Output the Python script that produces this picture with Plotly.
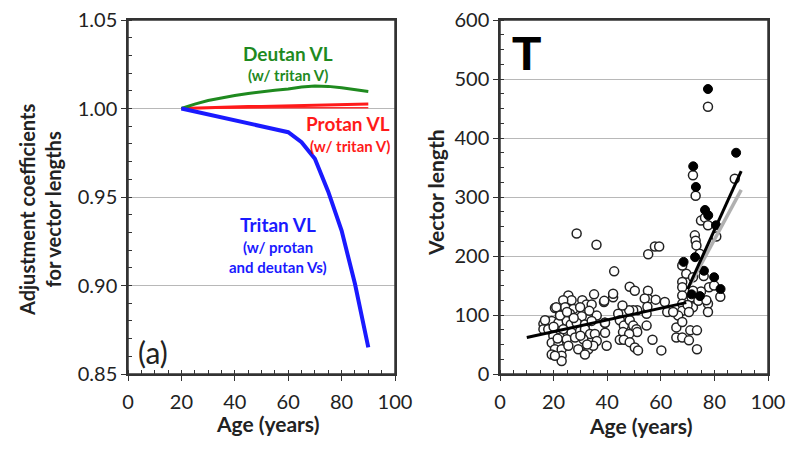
import plotly.graph_objects as go

# left panel: adjustment coefficients by age
curve_age = [20, 25, 30, 35, 40, 45, 50, 55, 60, 65, 70, 75, 80, 85, 90]
deutan_coef = [1.000, 1.0025, 1.0045, 1.006, 1.0073, 1.0085, 1.0095, 1.0103, 1.011,
               1.0122, 1.0127, 1.0125, 1.0117, 1.0107, 1.0096]
protan_coef = [1.000, 1.0003, 1.0005, 1.0007, 1.0009, 1.0011, 1.0012, 1.0014, 1.0015,
               1.0017, 1.0019, 1.002, 1.0022, 1.0024, 1.0025]
protan_alt_coef = [1.000, 1.0001, 1.0001, 1.0002, 1.0002, 1.0003, 1.0003, 1.0003, 1.0004,
                   1.0004, 1.0004, 1.0004, 1.0004, 1.0004, 1.0004]
tritan_coef = [1.000, 0.9984, 0.9967, 0.995, 0.9934, 0.9917, 0.99, 0.9883, 0.9866,
               0.981, 0.9716, 0.953, 0.931, 0.901, 0.865]

# right panel: tritan vector length by age
open_age = [
    28.6, 36.0, 42.6, 55.3, 57.8, 59.4, 77.6, 87.6, 72.0, 73.0, 75.0, 76.5, 77.6, 80.7,
    72.7, 73.0, 73.3, 74.5, 69.5, 68.0, 68.0, 68.0, 72.0, 78.0, 75.0, 72.0, 71.5, 72.0,
    68.0, 68.0, 68.0, 77.6, 77.6, 79.9, 82.2, 76.0, 66.5, 65.8, 65.8, 68.0, 70.5, 71.0,
    73.5, 73.5, 68.0, 70.0, 70.5, 74.0, 77.0,
    48.4, 50.3, 55.2, 55.3, 54.0, 58.1, 61.5, 62.4, 64.6, 54.7, 55.0, 51.2, 49.7, 48.2,
    45.7, 44.1, 44.7, 46.2, 48.4, 49.7, 50.9, 51.2, 45.9, 48.2, 44.7, 46.2, 48.4, 50.3,
    51.5, 54.7, 56.9, 60.2, 39.8, 42.2, 42.2, 38.8, 39.1,
    25.5, 26.7, 23.6, 30.7, 35.1, 38.9, 32.3, 34.2, 24.3, 27.4, 20.5, 29.9, 33.3, 36.1,
    22.4, 26.1, 30.5, 17.4, 16.2, 19.3, 21.8, 24.9, 26.4, 28.6, 31.7, 34.2, 39.2, 16.2,
    18.7, 21.1, 23.6, 26.7, 29.9, 31.7, 33.6, 19.9, 22.4, 24.9, 28.0, 31.1, 35.4, 36.1,
    19.3, 21.8, 20.5, 23.0, 25.5, 29.2, 33.0, 34.8, 19.3, 23.0, 31.7, 23.0, 20.5, 21.0,
    22.4, 16.8, 18.0, 39.2, 27.5, 30.0, 21.5, 20.0, 25.0, 32.5,
]
open_vl = [
    238, 219, 174, 203, 216, 216, 453, 331, 337, 302, 260, 265, 252, 233,
    235, 226, 218, 204, 170, 184, 156, 147, 164, 147, 140, 141, 130, 113,
    133, 119, 107, 119, 105, 150, 131, 166, 99, 79, 62, 62, 57, 74,
    74, 42, 88, 117, 105, 124, 125,
    148, 141, 141, 127, 128, 126, 122, 105, 105, 102, 114, 108, 108, 108,
    116, 102, 91, 82, 91, 82, 76, 71, 71, 68, 58, 58, 54, 45,
    40, 82, 58, 40, 48, 130, 136, 122, 87,
    133, 125, 125, 125, 135, 124, 118, 118, 113, 110, 112, 113, 107, 99,
    100, 102, 98, 90, 85, 90, 87, 90, 84, 87, 84, 90, 87, 76,
    76, 73, 76, 70, 73, 76, 68, 65, 62, 59, 62, 59, 68, 56,
    53, 51, 42, 42, 48, 42, 42, 48, 33, 31, 33, 22, 31, 113,
    99, 91, 76, 70, 95, 65, 60, 80, 105, 50,
]
filled_age = [88.1, 72.1, 73.1, 76.5, 77.7, 80.6, 72.8, 76.1, 79.9, 82.3, 74.6, 71.5, 68.5, 77.6]
filled_vl = [375, 352, 317, 278, 269, 252, 198, 175, 164, 144, 132, 135, 190, 483]

fit_young_age = [10, 69.5]
fit_young_vl = [62, 121]
fit_old_age = [70, 90]
fit_old_vl = [144, 344]
fit_gray_age = [71, 90]
fit_gray_vl = [152, 312]

FONT = "Lato, 'Open Sans', sans-serif"
W, H = 792, 445  # page body keeps an 8px margin
OFF = 8


def px_x(p):
    return (p - OFF) / W


def px_y(p):
    return 1 - (p - OFF) / H


fig = go.Figure()

fig.add_trace(go.Scatter(x=curve_age, y=protan_alt_coef, mode="lines",
                         line=dict(color="#ff3030", width=1.5), xaxis="x", yaxis="y"))
fig.add_trace(go.Scatter(x=curve_age, y=protan_coef, mode="lines",
                         line=dict(color="#ff1a1a", width=3), xaxis="x", yaxis="y"))
fig.add_trace(go.Scatter(x=curve_age, y=deutan_coef, mode="lines",
                         line=dict(color="#1f8a1f", width=3), xaxis="x", yaxis="y"))
fig.add_trace(go.Scatter(x=curve_age, y=tritan_coef, mode="lines",
                         line=dict(color="#1a1aff", width=4), xaxis="x", yaxis="y"))

fig.add_trace(go.Scatter(x=open_age, y=open_vl, mode="markers",
                         marker=dict(size=9, color="white", line=dict(color="#222", width=1.5)),
                         xaxis="x2", yaxis="y2"))
fig.add_trace(go.Scatter(x=filled_age, y=filled_vl, mode="markers",
                         marker=dict(size=9, color="black", line=dict(color="black", width=1)),
                         xaxis="x2", yaxis="y2"))
fig.add_trace(go.Scatter(x=fit_gray_age, y=fit_gray_vl, mode="lines",
                         line=dict(color="#b0b0b0", width=3.5), xaxis="x2", yaxis="y2"))
fig.add_trace(go.Scatter(x=fit_young_age, y=fit_young_vl, mode="lines",
                         line=dict(color="black", width=3), xaxis="x2", yaxis="y2"))
fig.add_trace(go.Scatter(x=fit_old_age, y=fit_old_vl, mode="lines",
                         line=dict(color="black", width=3), xaxis="x2", yaxis="y2"))

axis_common = dict(showline=True, mirror=True, linecolor="#333", linewidth=1.5,
                   ticks="outside", ticklen=5, tickcolor="#333", zeroline=False,
                   automargin=False, ticklabeloverflow="allow",
                   tickfont=dict(family=FONT, size=20, color="#222"))

y_dom = [px_y(374), px_y(20)]

fig.update_layout(
    width=W, height=H, showlegend=False,
    margin=dict(l=0, r=0, t=0, b=0),
    paper_bgcolor="white", plot_bgcolor="white",
    xaxis=dict(domain=[px_x(128), px_x(395)], range=[0, 100], dtick=20, showgrid=False,
               minor=dict(dtick=5, ticks="inside", ticklen=4, tickcolor="#333"),
               anchor="y", ticklabelstandoff=4, **axis_common),
    yaxis=dict(domain=y_dom, range=[0.85, 1.05], dtick=0.05, tickformat=".2f",
               showgrid=True, gridcolor="#b8b8b8", gridwidth=1,
               minor=dict(dtick=0.01, ticks="inside", ticklen=4, tickcolor="#333", showgrid=False),
               anchor="x", **axis_common),
    xaxis2=dict(domain=[px_x(500), px_x(768)], range=[0, 100], dtick=20, showgrid=False,
                minor=dict(dtick=5, ticks="inside", ticklen=4, tickcolor="#333"),
                anchor="y2", ticklabelstandoff=4, **axis_common),
    yaxis2=dict(domain=y_dom, range=[0, 600], dtick=100,
                showgrid=True, gridcolor="#b8b8b8", gridwidth=1,
                minor=dict(dtick=25, ticks="inside", ticklen=4, tickcolor="#333", showgrid=False),
                anchor="x2", **axis_common),
)

# frame each panel
for xr, yr in (("x domain", "y domain"), ("x2 domain", "y2 domain")):
    fig.add_shape(type="rect", xref=xr, yref=yr, x0=0, x1=1, y0=0, y1=1,
                  line=dict(color="#333", width=1.5), layer="above")


def note(text, x, y, color, size, xref="x", yref="y", bold=True, family=FONT, **kw):
    fig.add_annotation(text=f"<b>{text}</b>" if bold else text, x=x, y=y, xref=xref, yref=yref,
                       xanchor="center", yanchor="middle", showarrow=False,
                       font=dict(family=family, size=size, color=color), **kw)


note("Deutan VL", 60, 1.0313, "#1f8a1f", 19)
note("(w/ tritan V)", 60, 1.0188, "#1f8a1f", 15)
note("Protan VL", 82.5, 0.9915, "#ff1a1a", 19)
note("(w/ tritan V)", 83, 0.979, "#ff1a1a", 15)
note("Tritan VL", 56.2, 0.9347, "#1a1aff", 19)
note("(w/ protan", 56.2, 0.922, "#1a1aff", 15)
note("and deutan Vs)", 56.2, 0.9105, "#1a1aff", 15)
note("(a)", 9.4, 0.8625, "#222", 30, bold=False)
note("T", 10, 544, "black", 48, xref="x2", yref="y2", family="'Liberation Sans', Arial, sans-serif")

note("Adjustment coefficients<br>for vector lengths", px_x(40), px_y(210), "#222", 20,
     xref="paper", yref="paper", textangle=-90)
note("Age (years)", px_x(267), px_y(423), "#222", 21, xref="paper", yref="paper")
note("Vector length", px_x(435), px_y(193), "#222", 21, xref="paper", yref="paper", textangle=-90)
note("Age (years)", px_x(640), px_y(425), "#222", 21, xref="paper", yref="paper")

fig.write_html("out.html")
